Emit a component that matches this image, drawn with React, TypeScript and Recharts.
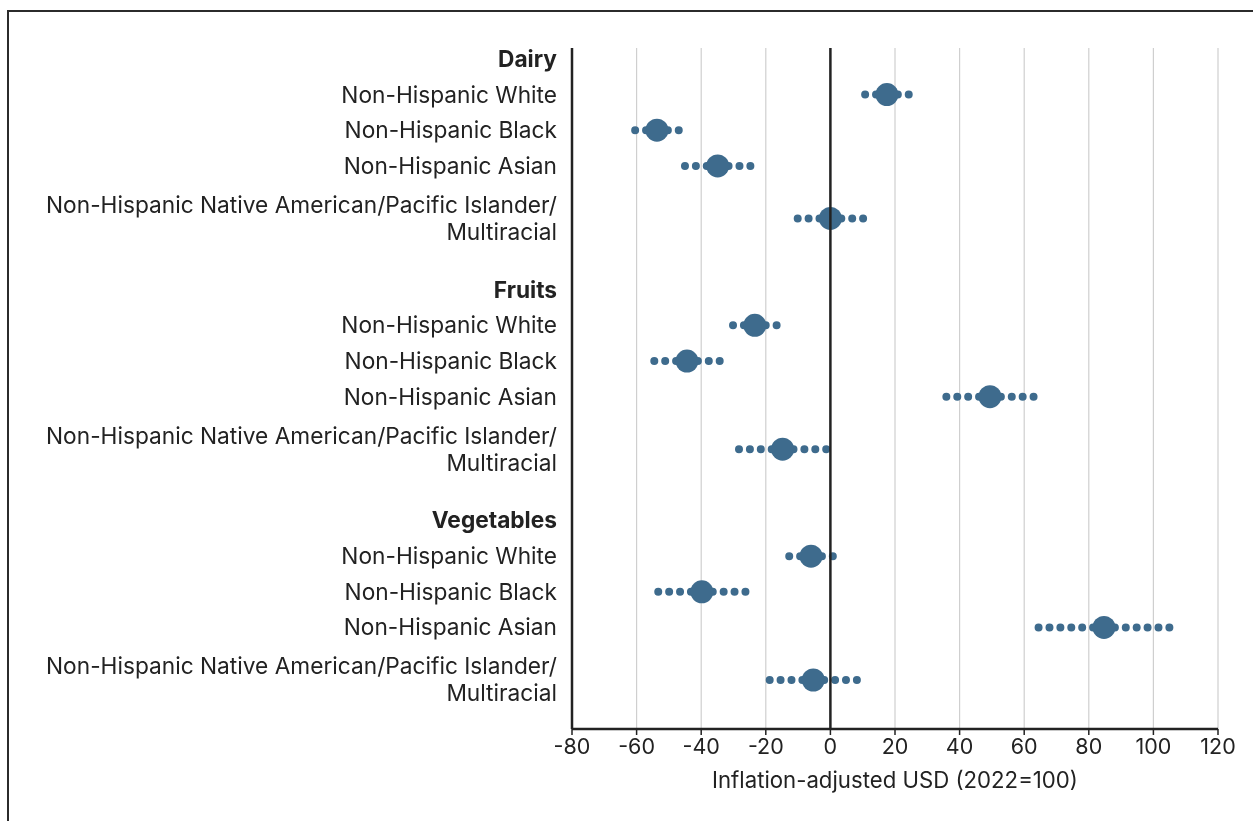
import { ScatterChart, Scatter, XAxis, YAxis, CartesianGrid, ReferenceLine } from 'recharts'

const foodGroups = ['Dairy', 'Fruits', 'Vegetables']

// label lines for each race/ethnicity row
const raceGroups = [
  ['Non-Hispanic White'],
  ['Non-Hispanic Black'],
  ['Non-Hispanic Asian'],
  ['Non-Hispanic Native American/Pacific Islander/', 'Multiracial'],
]

// point estimates, one list per food group (same order as raceGroups)
const estimates = [
  [17.5, -53.7, -34.9, 0],
  [-23.4, -44.4, 49.4, -14.8],
  [-6.0, -39.8, 84.7, -5.3],
]
const lowerBounds = [
  [10.5, -60.6, -45.3, -10.4],
  [-30.3, -54.8, 35.6, -28.6],
  [-13.0, -53.6, 64.3, -19.1],
]
const upperBounds = [
  [24.5, -46.8, -24.5, 10.4],
  [-16.4, -34.0, 63.2, -1.0],
  [1.0, -26.0, 105.1, 8.5],
]

const xTicks = [-80, -60, -40, -20, 0, 20, 40, 60, 80, 100, 120]

const COLOR = '#3e6b8d'
const INK = '#222222'

type Row = { pos: number; lines: string[]; heading: boolean; est?: number; lo?: number; hi?: number }

// vertical slots: two-line labels take a bit more room, extra gap between food groups
const rows: Row[] = []
let pos = 0
let prevLines = 1
foodGroups.forEach((food, g) => {
  if (g > 0) pos += 2 + 0.85 * (prevLines - 1) + 1.15
  rows.push({ pos, lines: [food], heading: true })
  raceGroups.forEach((label, r) => {
    pos += 2 + 0.95 * (label.length - 1)
    rows.push({
      pos,
      lines: label,
      heading: false,
      est: estimates[g][r],
      lo: lowerBounds[g][r],
      hi: upperBounds[g][r],
    })
    prevLines = label.length
  })
})

const dataRows = rows.filter(r => !r.heading)
const pointData = dataRows.map(r => ({ x: r.est, y: r.pos }))

const RowTick = ({ x, y, payload }: any) => {
  const row = rows.find(r => Math.abs(r.pos - payload.value) < 0.001)
  if (!row) return null
  const lh = 27
  const start = -((row.lines.length - 1) * lh) / 2
  return (
    <text
      x={x}
      y={y}
      textAnchor="end"
      fill={INK}
      fontSize={22.7}
      fontWeight={row.heading ? 700 : 400}
    >
      {row.lines.map((l, i) => (
        <tspan key={i} x={x} y={y + start + i * lh} dy="0.35em">
          {l}
        </tspan>
      ))}
    </text>
  )
}

const BigDot = (props: any) => <circle cx={props.cx} cy={props.cy} r={11.5} fill={COLOR} />
const NoShape = () => <g />

const dotLine = {
  stroke: COLOR,
  strokeWidth: 8,
  strokeDasharray: '0 10.9',
  strokeLinecap: 'round',
}

export default function App() {
  return (
    <div style={{ fontFamily: 'Inter, sans-serif' }}>
      <div
        style={{
          position: 'fixed',
          left: 7,
          top: 10,
          width: 1246,
          height: 811,
          borderTop: '2.5px solid #2b2b2b',
          borderLeft: '2.5px solid #2b2b2b',
          boxSizing: 'border-box',
        }}
      />
      <div style={{ position: 'fixed', left: 0, top: 0 }}>
        <ScatterChart width={1253} height={821} margin={{ top: 48, right: 35, bottom: 32, left: 0 }}>
          <CartesianGrid vertical horizontal={false} stroke="#cfcfcf" strokeWidth={1.2} />
          <XAxis
            type="number"
            dataKey="x"
            domain={[-80, 120]}
            ticks={xTicks}
            interval={0}
            allowDataOverflow
            height={60}
            tickSize={6}
            tickMargin={4}
            tick={{ fill: INK, fontSize: 21.5 }}
            tickLine={{ stroke: INK, strokeWidth: 1.5 }}
            axisLine={{ stroke: INK, strokeWidth: 2.5 }}
            label={{
              value: 'Inflation-adjusted USD (2022=100)',
              position: 'insideBottom',
              offset: 1,
              fill: INK,
              fontSize: 22.2,
            }}
          />
          <YAxis
            type="number"
            dataKey="y"
            reversed
            domain={[-0.615, pos + 2.75]}
            ticks={rows.map(r => r.pos)}
            interval={0}
            allowDataOverflow
            width={572}
            tickLine={false}
            tickSize={6}
            tickMargin={9}
            tick={<RowTick />}
            axisLine={{ stroke: INK, strokeWidth: 2.5 }}
          />
          {dataRows.map((r, i) => (
            <Scatter
              key={`lo-${i}`}
              data={[{ x: r.est, y: r.pos }, { x: r.lo, y: r.pos }]}
              line={dotLine}
              shape={NoShape}
              isAnimationActive={false}
            />
          ))}
          {dataRows.map((r, i) => (
            <Scatter
              key={`hi-${i}`}
              data={[{ x: r.est, y: r.pos }, { x: r.hi, y: r.pos }]}
              line={dotLine}
              shape={NoShape}
              isAnimationActive={false}
            />
          ))}
          <Scatter data={pointData} shape={BigDot} isAnimationActive={false} />
          <ReferenceLine x={0} stroke={INK} strokeWidth={2.5} zIndex={1000} />
        </ScatterChart>
      </div>
    </div>
  )
}
